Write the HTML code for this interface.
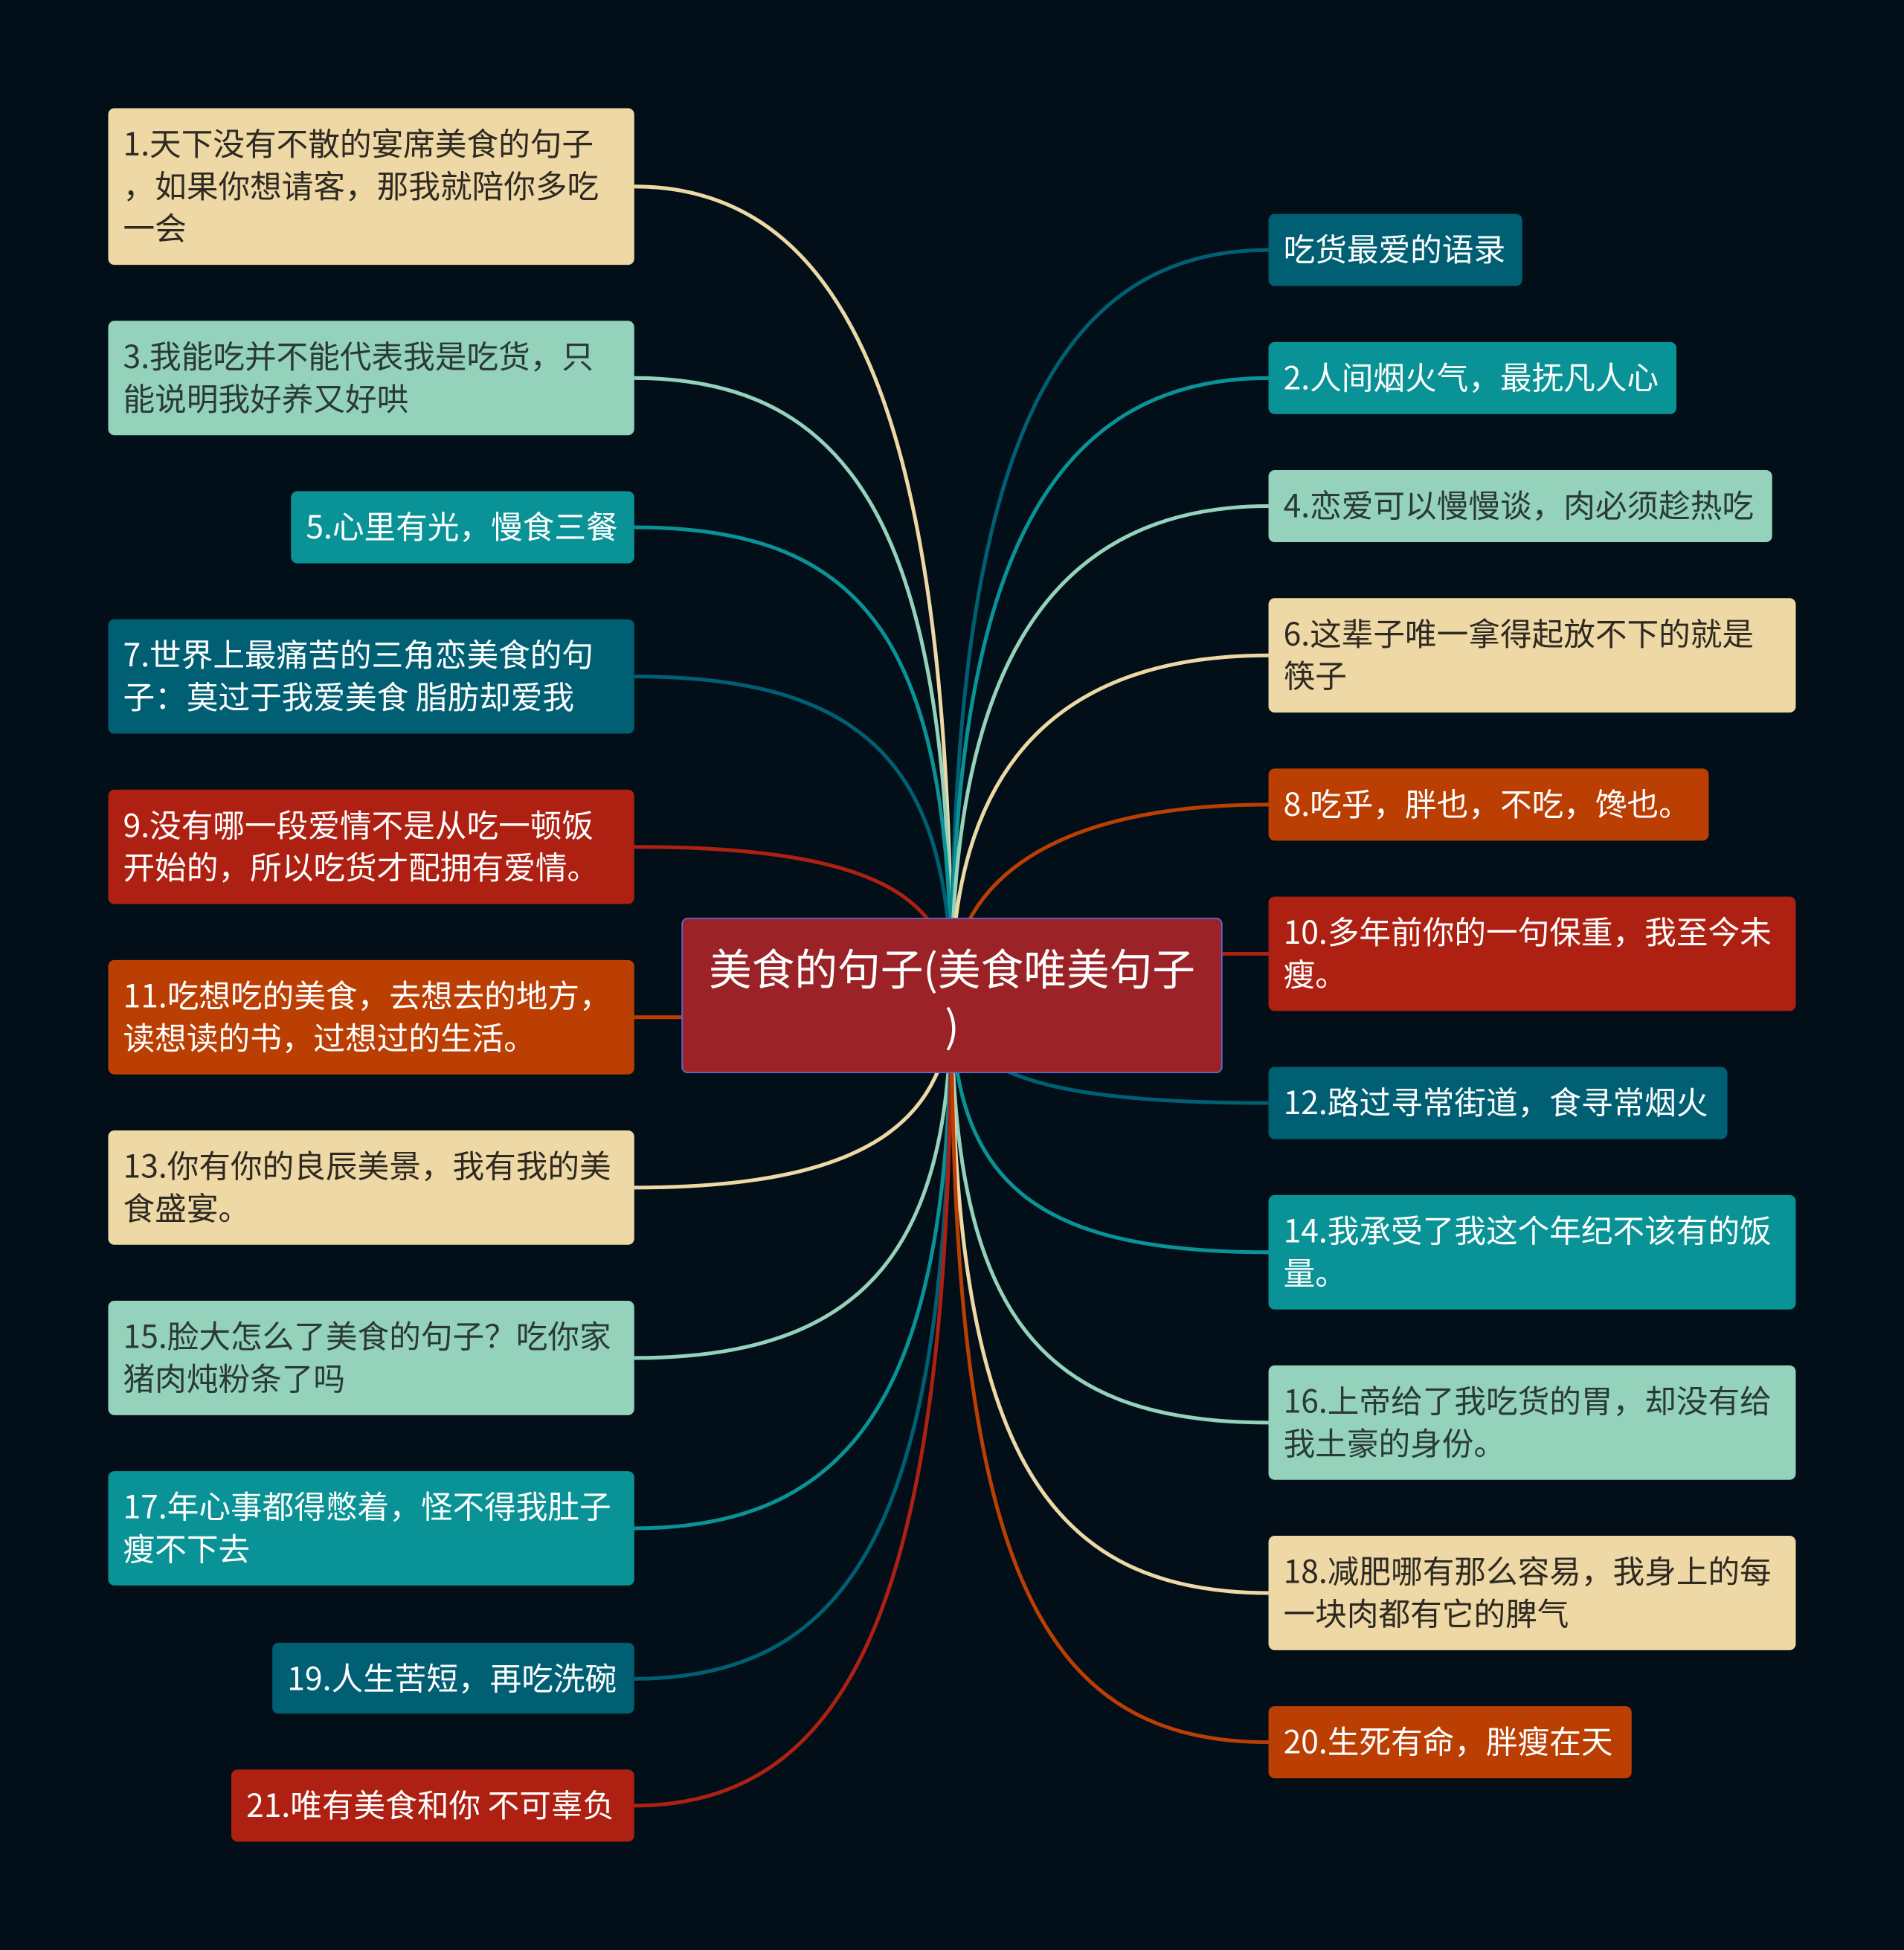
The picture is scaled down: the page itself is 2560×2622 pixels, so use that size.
<!DOCTYPE html>
<html><head><meta charset="utf-8"><style>
html,body{margin:0;padding:0;background:#020f18;}
body{width:2560px;height:2622px;overflow:hidden;position:relative;}
#w{position:absolute;left:0;top:0;width:1531px;height:1568px;transform:scale(1.6721);transform-origin:0 0;}
.n{position:absolute;box-sizing:border-box;border-radius:5px;padding:11px 12px 9px 12px;font-family:"Noto Sans CJK SC","Liberation Sans",sans-serif;font-size:25.5px;line-height:34px;white-space:nowrap;}
.b{background:#eed8a6;color:#2e2a22;}
.m{background:#94d2bb;color:#2a3a34;}
.t{background:#0a9396;color:#fff;}
.d{background:#005f73;color:#fff;}
.r{background:#ae2012;color:#fff;}
.o{background:#bb3e03;color:#fff;}
.c{position:absolute;left:548px;top:738px;width:435px;height:125px;background:#9b2226;border:1.5px solid #5a6ee0;border-radius:5px;box-sizing:border-box;color:#fff;font-family:"Noto Sans CJK SC","Liberation Sans",sans-serif;font-size:34.5px;line-height:46px;text-align:center;padding:15px 0;white-space:nowrap;}
svg{position:absolute;left:0;top:0;}
</style></head><body><div id="w">
<svg width="1531" height="1568" fill="none" stroke-width="3">
<path d="M765 800 C765 380,700 150,510 150" stroke="#eed8a6"/>
<path d="M765 800 C765 450,700 304,510 304" stroke="#94d2bb"/>
<path d="M765 800 C765 520,700 424,510 424" stroke="#0a9396"/>
<path d="M765 800 C765 620,700 544,510 544" stroke="#005f73"/>
<path d="M765 800 C765 720,700 681,510 681" stroke="#ae2012"/>
<path d="M548 818 L510 818" stroke="#bb3e03"/>
<path d="M765 800 C765 900,700 955,510 955" stroke="#eed8a6"/>
<path d="M765 800 C765 1000,700 1092,510 1092" stroke="#94d2bb"/>
<path d="M765 800 C765 1100,700 1229,510 1229" stroke="#0a9396"/>
<path d="M765 800 C765 1200,700 1350,510 1350" stroke="#005f73"/>
<path d="M765 800 C765 1250,700 1452,510 1452" stroke="#ae2012"/>
<path d="M765 800 C765 400,830 201,1020 201" stroke="#005f73"/>
<path d="M765 800 C765 480,830 304,1020 304" stroke="#0a9396"/>
<path d="M765 800 C765 560,830 407,1020 407" stroke="#94d2bb"/>
<path d="M765 800 C765 640,830 527,1020 527" stroke="#eed8a6"/>
<path d="M765 800 C765 720,830 647,1020 647" stroke="#bb3e03"/>
<path d="M983 767 L1020 767" stroke="#ae2012"/>
<path d="M765 800 C765 860,830 887,1020 887" stroke="#005f73"/>
<path d="M765 800 C765 950,830 1007,1020 1007" stroke="#0a9396"/>
<path d="M765 800 C765 1050,830 1144,1020 1144" stroke="#94d2bb"/>
<path d="M765 800 C765 1150,830 1281,1020 1281" stroke="#eed8a6"/>
<path d="M765 800 C765 1250,830 1401,1020 1401" stroke="#bb3e03"/>
</svg>
<div class="n b" style="left:87px;top:87px;width:423px;height:126px">1.天下没有不散的宴席美食的句子<br>，如果你想请客，那我就陪你多吃<br>一会</div>
<div class="n m" style="left:87px;top:258px;width:423px;height:92px">3.我能吃并不能代表我是吃货，只<br>能说明我好养又好哄</div>
<div class="n t" style="left:234px;top:395px;width:276px;height:58px">5.心里有光，慢食三餐</div>
<div class="n d" style="left:87px;top:498px;width:423px;height:92px">7.世界上最痛苦的三角恋美食的句<br>子：莫过于我爱美食 脂肪却爱我</div>
<div class="n r" style="left:87px;top:635px;width:423px;height:92px">9.没有哪一段爱情不是从吃一顿饭<br>开始的，所以吃货才配拥有爱情。</div>
<div class="n o" style="left:87px;top:772px;width:423px;height:92px">11.吃想吃的美食，去想去的地方，<br>读想读的书，过想过的生活。</div>
<div class="n b" style="left:87px;top:909px;width:423px;height:92px">13.你有你的良辰美景，我有我的美<br>食盛宴。</div>
<div class="n m" style="left:87px;top:1046px;width:423px;height:92px">15.脸大怎么了美食的句子？吃你家<br>猪肉炖粉条了吗</div>
<div class="n t" style="left:87px;top:1183px;width:423px;height:92px">17.年心事都得憋着，怪不得我肚子<br>瘦不下去</div>
<div class="n d" style="left:219px;top:1321px;width:291px;height:57px">19.人生苦短，再吃洗碗</div>
<div class="n r" style="left:186px;top:1423px;width:324px;height:58px">21.唯有美食和你 不可辜负</div>
<div class="n d" style="left:1020px;top:172px;width:204px;height:58px">吃货最爱的语录</div>
<div class="n t" style="left:1020px;top:275px;width:328px;height:58px">2.人间烟火气，最抚凡人心</div>
<div class="n m" style="left:1020px;top:378px;width:405px;height:58px">4.恋爱可以慢慢谈，肉必须趁热吃</div>
<div class="n b" style="left:1020px;top:481px;width:424px;height:92px">6.这辈子唯一拿得起放不下的就是<br>筷子</div>
<div class="n o" style="left:1020px;top:618px;width:354px;height:58px">8.吃乎，胖也，不吃，馋也。</div>
<div class="n r" style="left:1020px;top:721px;width:424px;height:92px">10.多年前你的一句保重，我至今未<br>瘦。</div>
<div class="n d" style="left:1020px;top:858px;width:369px;height:58px">12.路过寻常街道，食寻常烟火</div>
<div class="n t" style="left:1020px;top:961px;width:424px;height:92px">14.我承受了我这个年纪不该有的饭<br>量。</div>
<div class="n m" style="left:1020px;top:1098px;width:424px;height:92px">16.上帝给了我吃货的胃，却没有给<br>我土豪的身份。</div>
<div class="n b" style="left:1020px;top:1235px;width:424px;height:92px">18.减肥哪有那么容易，我身上的每<br>一块肉都有它的脾气</div>
<div class="n o" style="left:1020px;top:1372px;width:292px;height:58px">20.生死有命，胖瘦在天</div>
<div class="c">美食的句子(美食唯美句子<br>)</div>
</div></body></html>
